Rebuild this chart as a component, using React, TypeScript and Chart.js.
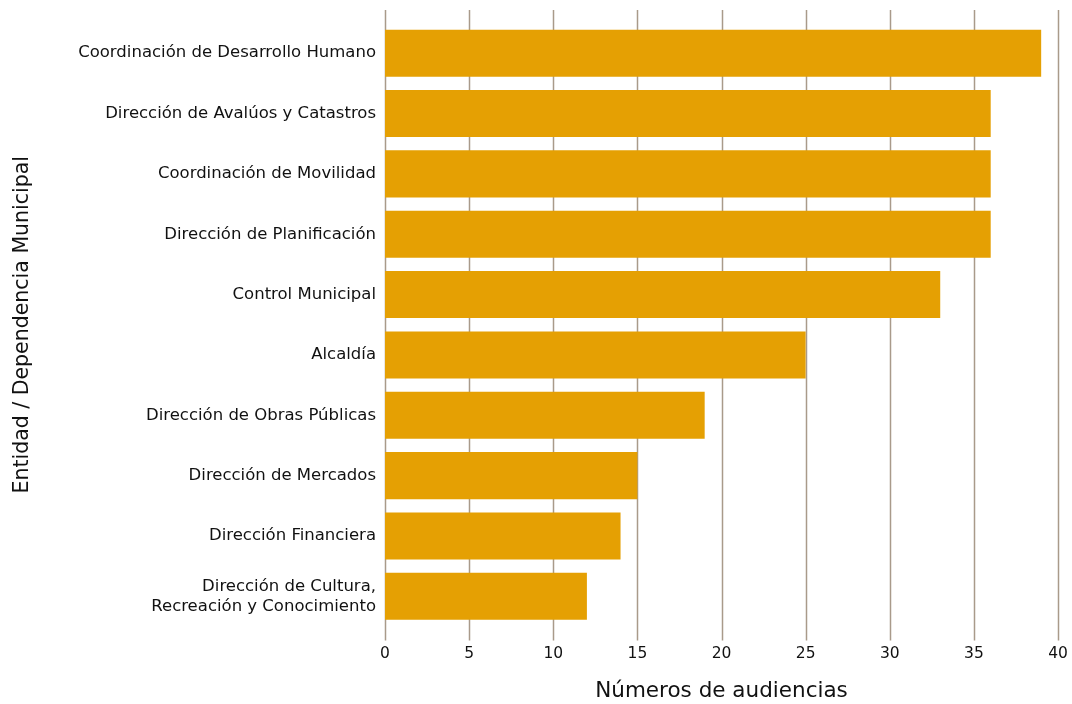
import React, { useEffect, useRef } from "react";
import { Chart, registerables } from "chart.js";

Chart.register(...registerables);

const categories: (string | string[])[] = [
  "Coordinación de Desarrollo Humano",
  "Dirección de Avalúos y Catastros",
  "Coordinación de Movilidad",
  "Dirección de Planificación",
  "Control Municipal",
  "Alcaldía",
  "Dirección de Obras Públicas",
  "Dirección de Mercados",
  "Dirección Financiera",
  ["Dirección de Cultura,", "Recreación y Conocimiento"],
];
const audiencias = [39, 36, 36, 36, 33, 25, 19, 15, 14, 12];
const xMin = 0;
const xMax = 40;
const xStep = 5;
const xTitle = "Números de audiencias";
const yTitle = "Entidad / Dependencia Municipal";

const BAR_COLOR = "#E5A003";
const GRID_COLOR = "#A99A8A";
const FONT = "'DejaVu Sans', sans-serif";

const gridPlugin = {
  id: "extGrid",
  beforeDatasetsDraw(chart: any) {
    const { ctx, chartArea, scales } = chart;
    const x = scales.x;
    ctx.save();
    ctx.strokeStyle = GRID_COLOR;
    ctx.lineWidth = 1.5;
    x.ticks.forEach((t: any) => {
      const px = Math.round(x.getPixelForValue(t.value)) + 0.5;
      ctx.beginPath();
      ctx.moveTo(px, chartArea.top - 13);
      ctx.lineTo(px, chartArea.bottom + 14);
      ctx.stroke();
    });
    ctx.restore();
  },
};

export default function App() {
  const ref = useRef<HTMLCanvasElement>(null);
  useEffect(() => {
    document.body.style.margin = "0";
    const chart = new Chart(ref.current as HTMLCanvasElement, {
      type: "bar",
      data: {
        labels: categories as any,
        datasets: [
          {
            data: audiencias,
            backgroundColor: BAR_COLOR,
            borderWidth: 0,
            barPercentage: 0.78,
            categoryPercentage: 1,
          },
        ],
      },
      options: {
        indexAxis: "y",
        animation: false,
        responsive: true,
        maintainAspectRatio: false,
        layout: { padding: { top: 23, right: 0, left: 0, bottom: 0 } },
        plugins: {
          legend: { display: false },
          tooltip: { enabled: false },
        },
        scales: {
          x: {
            min: xMin,
            max: xMax,
            grid: { display: false },
            border: { display: false },
            ticks: {
              stepSize: xStep,
              padding: 10,
              color: "#111",
              font: { family: FONT, size: 15.5 },
            },
            title: {
              display: true,
              text: xTitle,
              color: "#111",
              font: { family: FONT, size: 21.5 },
              padding: { top: 0, bottom: 0 },
            },
            afterFit(scale: any) {
              scale.height = 77.5;
              scale.paddingRight = 14;
            },
          },
          y: {
            grid: { display: false },
            border: { display: false },
            ticks: {
              padding: 1,
              color: "#111",
              font: { family: FONT, size: 16.5, lineHeight: 1.22 },
            },
            title: {
              display: true,
              text: yTitle,
              color: "#111",
              font: { family: FONT, size: 20.5 },
              padding: { top: 10, bottom: 0 },
            },
            afterFit(scale: any) {
              scale.width = 385;
            },
          },
        },
      },
      plugins: [gridPlugin],
    });
    return () => chart.destroy();
  }, []);
  return (
    <div style={{ position: "absolute", left: 0, top: 0, width: 1072, height: 704 }}>
      <canvas ref={ref} />
    </div>
  );
}
